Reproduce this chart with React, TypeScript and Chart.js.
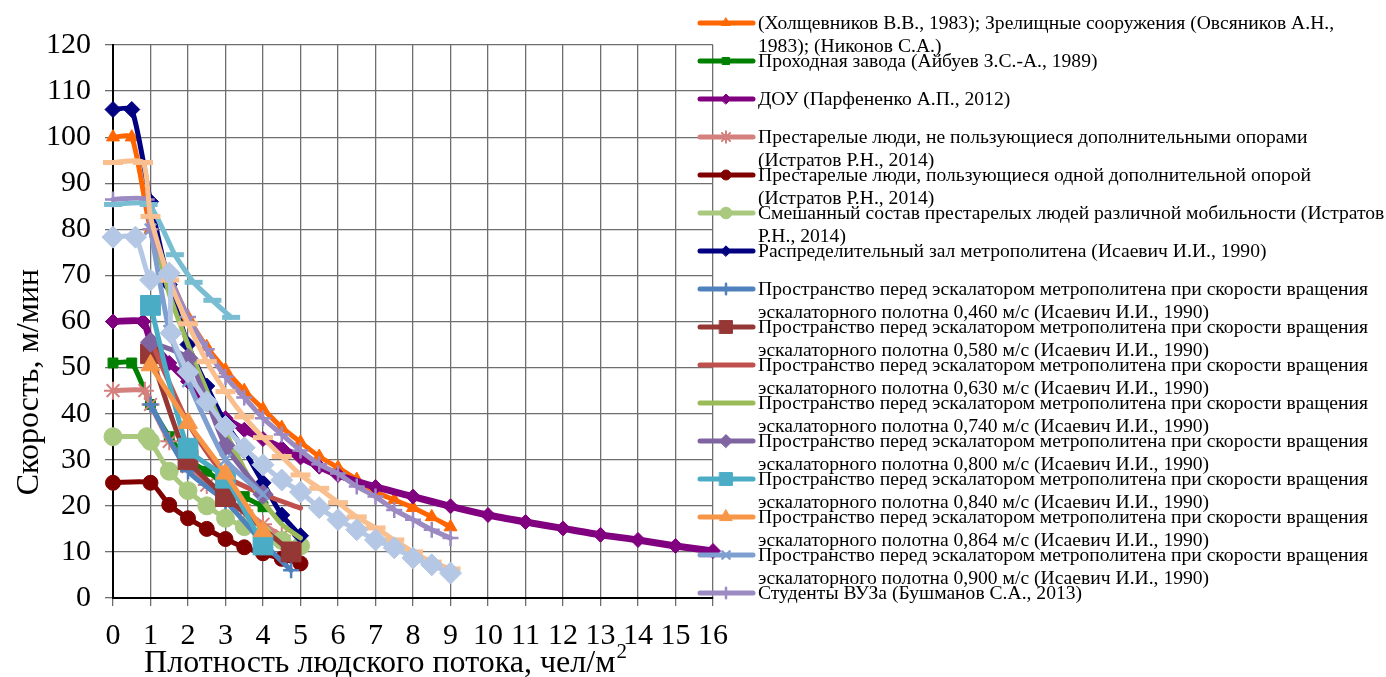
import React, { useEffect, useRef } from 'react';
import { Chart, registerables } from 'chart.js';
import { drawPoint } from 'chart.js/helpers';

Chart.register(...registerables);

// ---------- DATA ----------
const xMin = 0;
const xMax = 16;
const yMin = 0;
const yMax = 120;
const yStep = 10;
const xStep = 1;

const yTitle = 'Скорость, м/мин';
const xTitle = 'Плотность людского потока, чел/м';
const xTitleSup = '2';

// 1. Холщевников / Зрелищные сооружения
const holX = [0, 0.5, 1, 1.5, 2, 2.5, 3, 3.5, 4, 4.5, 5, 5.5, 6, 6.5, 7, 7.5, 8, 8.5, 9];
const holY = [100, 100, 80, 70, 61, 54.5, 49.5, 45, 41, 37, 33.8, 30.7, 28.3, 25.7, 23, 21.3, 19.6, 17.6, 15.4];
// 2. Проходная завода
const zavX = [0, 0.5, 1, 1.5, 2, 2.5, 3, 3.5, 4];
const zavY = [51, 51, 42, 35, 30, 27.5, 24.5, 22, 19.8];
// 3. ДОУ
const douX = [0, 0.8, 1, 1.5, 2, 2.5, 3, 3.5, 4, 4.5, 5, 5.5, 6, 7, 8, 9, 10, 11, 12, 13, 14, 15, 16];
const douY = [60, 60, 56, 51, 47, 42, 39, 36.5, 34.5, 32.5, 30.5, 28.5, 26.7, 24.1, 22, 19.9, 18, 16.5, 15.1, 13.7, 12.6, 11.3, 10.2];
// 4. Престарелые без опор
const oldNoX = [0, 0.85, 1, 1.5, 2, 2.5, 3, 3.5, 4, 4.5];
const oldNoY = [45, 45, 42, 34, 28.5, 24.5, 21.5, 19, 16, 13.5];
// 5. Престарелые с одной опорой
const oldOneX = [0, 1, 1.5, 2, 2.5, 3, 3.5, 4, 4.5, 5];
const oldOneY = [25, 25, 20.2, 17.3, 15, 12.8, 11, 9.7, 8.5, 7.5];
// 6. Смешанный состав
const oldMixX = [0, 0.9, 1, 1.5, 2, 2.5, 3, 3.5, 4, 4.5, 5];
const oldMixY = [35, 35, 34, 27.5, 23.3, 20, 17.3, 15.5, 13.8, 12.5, 11.3];
// 7. Распределительный зал
const hallX = [0, 0.5, 1, 1.5, 2, 2.5, 3, 3.5, 4, 4.5, 5];
const hallY = [106, 106, 86, 68, 55, 46, 38, 32, 25, 18, 13.5];
// 8-15. Пространство перед эскалатором
const esc460X = [1, 2, 3, 4, 4.75];
const esc460Y = [42, 27.5, 21, 12, 6];
const esc580X = [1, 2, 3, 4.75];
const esc580Y = [53, 30, 22, 10];
const esc630X = [1, 2, 3, 4, 5];
const esc630Y = [56, 38, 26.5, 22.5, 19.5];
const esc740X = [1, 1.5, 2, 2.5, 3, 3.5, 4, 4.5, 5];
const esc740Y = [82, 66, 55, 45, 36, 28, 21, 16, 13];
const esc800X = [1, 2, 3, 4];
const esc800Y = [55.5, 52, 33, 22.5];
const esc840X = [1, 2, 3, 4];
const esc840Y = [63.5, 32.5, 26, 11.5];
const esc864X = [1, 2, 3, 4];
const esc864Y = [50.5, 38, 27, 14.5];
const esc900X = [1, 1.5, 2, 3, 4];
const esc900Y = [80, 58, 47, 30, 22.5];
// 16. Студенты ВУЗа
const studX = [0, 0.9, 1, 1.5, 2, 2.5, 3, 3.5, 4, 4.5, 5, 5.5, 6, 6.5, 7, 7.5, 8, 8.5, 9];
const studY = [86.5, 86.5, 80, 70, 61, 54, 48, 43.5, 39, 35.5, 32, 29, 27, 24.2, 22, 19.1, 17, 14.8, 13];
// series without legend entries
const cyanX = [0, 0.95, 1.65, 2.15, 2.65, 3.15];
const cyanY = [85.4, 85.4, 74.5, 68.5, 64.6, 60.9];
const peachX = [0, 0.8, 1, 1.5, 2, 2.5, 3, 3.5, 4, 4.5, 5, 5.5, 6, 6.5, 7, 7.5, 8, 8.5, 9];
const peachY = [94.5, 94.5, 82.8, 69, 59.5, 51.3, 44.8, 39.3, 34.8, 30.7, 26.7, 23.8, 20.7, 17.6, 15.2, 12.6, 10, 7.8, 6.3];
const lblueX = [0, 0.6, 1, 1.5, 1.55, 2, 2.5, 3, 3.5, 4, 4.5, 5, 5.5, 6, 6.5, 7, 7.5, 8, 8.5, 9];
const lblueY = [78.3, 78.3, 69, 70.5, 57.5, 49, 42.6, 37.2, 32.6, 28.9, 25.6, 23, 19.6, 17, 14.8, 12.6, 10.9, 8.7, 7.2, 5.4];

const escHead = 'Пространство перед эскалатором метрополитена при скорости вращения';
const escTail = (v: string) => `эскалаторного полотна ${v} м/с (Исаевич И.И., 1990)`;

const legendLabels: (string[] | null)[] = [
  ['(Холщевников В.В., 1983); Зрелищные сооружения (Овсяников А.Н.,', '1983); (Никонов С.А.)'],
  ['Проходная завода (Айбуев З.С.-А., 1989)'],
  ['ДОУ (Парфененко А.П., 2012)'],
  ['Престарелые люди, не пользующиеся дополнительными опорами', '(Истратов Р.Н., 2014)'],
  ['Престарелые люди, пользующиеся одной дополнительной опорой', '(Истратов Р.Н., 2014)'],
  ['Смешанный состав престарелых людей различной мобильности (Истратов', 'Р.Н., 2014)'],
  ['Распределительный зал метрополитена (Исаевич И.И., 1990)'],
  [escHead, escTail('0,460')],
  [escHead, escTail('0,580')],
  [escHead, escTail('0,630')],
  [escHead, escTail('0,740')],
  [escHead, escTail('0,800')],
  [escHead, escTail('0,840')],
  [escHead, escTail('0,864')],
  [escHead, escTail('0,900')],
  ['Студенты ВУЗа (Бушманов С.А., 2013)'],
  null,
  null,
  null,
];

// ---------- STYLES ----------
type Style = { color: string; style: any; r: number; w: number; pbw: number };
const styles: Style[] = [
  { color: '#FF6600', style: 'triangle', r: 7.5, w: 5, pbw: 1 },
  { color: '#008000', style: 'rect', r: 7, w: 5, pbw: 1 },
  { color: '#800080', style: 'rectRot', r: 7.5, w: 7, pbw: 1 },
  { color: '#D4807E', style: 'star', r: 9, w: 5, pbw: 2 },
  { color: '#800000', style: 'circle', r: 7.5, w: 5, pbw: 1 },
  { color: '#A9C97F', style: 'circle', r: 9, w: 5, pbw: 1 },
  { color: '#000080', style: 'rectRot', r: 8, w: 5, pbw: 1 },
  { color: '#4F81BD', style: 'cross', r: 8, w: 5, pbw: 2.5 },
  { color: '#953735', style: 'rect', r: 14, w: 5, pbw: 1 },
  { color: '#C0504D', style: false, r: 0, w: 5, pbw: 0 },
  { color: '#9BBB59', style: false, r: 0, w: 5, pbw: 0 },
  { color: '#8064A2', style: 'rectRot', r: 10, w: 5, pbw: 1 },
  { color: '#4BACC6', style: 'rect', r: 14, w: 5, pbw: 1 },
  { color: '#F79646', style: 'triangle', r: 11, w: 5, pbw: 1 },
  { color: '#7F9FD0', style: 'crossRot', r: 8, w: 5, pbw: 2.5 },
  { color: '#9B8BC2', style: 'cross', r: 8, w: 5, pbw: 2.5 },
  { color: '#78BDD2', style: 'line', r: 9, w: 5, pbw: 5 },
  { color: '#FABF8F', style: 'line', r: 10, w: 5, pbw: 5 },
  { color: '#B4C7E4', style: 'rectRot', r: 11, w: 5, pbw: 1 },
];

const seriesXY: [number[], number[]][] = [
  [holX, holY], [zavX, zavY], [douX, douY], [oldNoX, oldNoY], [oldOneX, oldOneY],
  [oldMixX, oldMixY], [hallX, hallY], [esc460X, esc460Y], [esc580X, esc580Y],
  [esc630X, esc630Y], [esc740X, esc740Y], [esc800X, esc800Y], [esc840X, esc840Y],
  [esc864X, esc864Y], [esc900X, esc900Y], [studX, studY], [cyanX, cyanY],
  [peachX, peachY], [lblueX, lblueY],
];

const FONT = "'Liberation Serif', 'Times New Roman', serif";

const overlayPlugin = {
  id: 'overlay',
  afterDraw(chart: any) {
    const ctx: CanvasRenderingContext2D = chart.ctx;
    ctx.save();
    // legend
    legendLabels.forEach((lines, i) => {
      if (!lines) return;
      const st = styles[i];
      const y = 23 + 38 * i;
      ctx.strokeStyle = st.color;
      ctx.lineWidth = 5;
      ctx.lineCap = 'round';
      ctx.beginPath();
      ctx.moveTo(700, y);
      ctx.lineTo(753, y);
      ctx.stroke();
      if (st.style) {
        ctx.fillStyle = st.color;
        ctx.strokeStyle = st.color;
        ctx.lineWidth = st.pbw;
        drawPoint(ctx, { pointStyle: st.style, radius: Math.max(5, st.r * 0.65), borderWidth: st.pbw, rotation: 0 } as any, 726, y);
      }
      ctx.fillStyle = '#000';
      ctx.font = `19.6px ${FONT}`;
      ctx.textAlign = 'left';
      ctx.textBaseline = 'middle';
      lines.forEach((t, k) => ctx.fillText(t, 758, y + 1 + k * 23));
    });
    // y title
    ctx.fillStyle = '#000';
    ctx.font = `32px ${FONT}`;
    ctx.textAlign = 'center';
    ctx.textBaseline = 'middle';
    ctx.save();
    ctx.translate(30, 382);
    ctx.rotate(-Math.PI / 2);
    ctx.fillText(yTitle, 0, 0);
    ctx.restore();
    // x title with superscript
    ctx.font = `32px ${FONT}`;
    const wMain = ctx.measureText(xTitle).width;
    ctx.font = `21px ${FONT}`;
    const wSup = ctx.measureText(xTitleSup).width;
    const startX = 385 - (wMain + wSup) / 2;
    ctx.textAlign = 'left';
    ctx.font = `32px ${FONT}`;
    ctx.fillText(xTitle, startX, 664);
    ctx.font = `21px ${FONT}`;
    ctx.fillText(xTitleSup, startX + wMain + 1, 652);
    ctx.restore();
  },
};

export default function App() {
  const ref = useRef<HTMLCanvasElement | null>(null);
  useEffect(() => {
    document.body.style.margin = '0';
    const canvas = ref.current!;
    const n = styles.length;
    const datasets = seriesXY.map(([xs, ys], i) => {
      const st = styles[i];
      return {
        label: legendLabels[i] ? legendLabels[i]!.join(' ') : '',
        data: xs.map((x, k) => ({ x, y: ys[k] })),
        borderColor: st.color,
        backgroundColor: st.color,
        borderWidth: st.w,
        pointStyle: st.style,
        pointRadius: st.style ? st.r : 0,
        pointBackgroundColor: st.color,
        pointBorderColor: st.color,
        pointBorderWidth: st.pbw,
        tension: 0.2,
        clip: false as any,
        order: n - i,
        borderCapStyle: 'round' as const,
        borderJoinStyle: 'round' as const,
      };
    });
    const chart = new Chart(canvas, {
      type: 'line',
      data: { datasets },
      options: {
        responsive: false,
        animation: false,
        layout: { padding: { left: 0, right: 673, top: 45, bottom: 0 } },
        plugins: { legend: { display: false }, tooltip: { enabled: false } },
        scales: {
          x: {
            type: 'linear',
            min: xMin,
            max: xMax,
            ticks: { stepSize: xStep, color: '#000', font: { family: FONT, size: 30 }, padding: 12, maxRotation: 0, autoSkip: false },
            grid: { color: '#6e6e6e', lineWidth: 1.3, tickLength: 8 },
            border: { color: '#000', width: 2 },
            afterFit: (s: any) => { s.height = 79; },
          },
          y: {
            type: 'linear',
            min: yMin,
            max: yMax,
            ticks: { stepSize: yStep, color: '#000', font: { family: FONT, size: 30 }, padding: 14 },
            grid: { color: '#6e6e6e', lineWidth: 1.3, tickLength: 8 },
            border: { color: '#000', width: 2 },
            afterFit: (s: any) => { s.width = 113; },
          },
        },
      },
      plugins: [overlayPlugin],
    });
    return () => chart.destroy();
  }, []);
  return <canvas ref={ref} width={1386} height={677} style={{ display: 'block', width: 1386, height: 677 }} />;
}
